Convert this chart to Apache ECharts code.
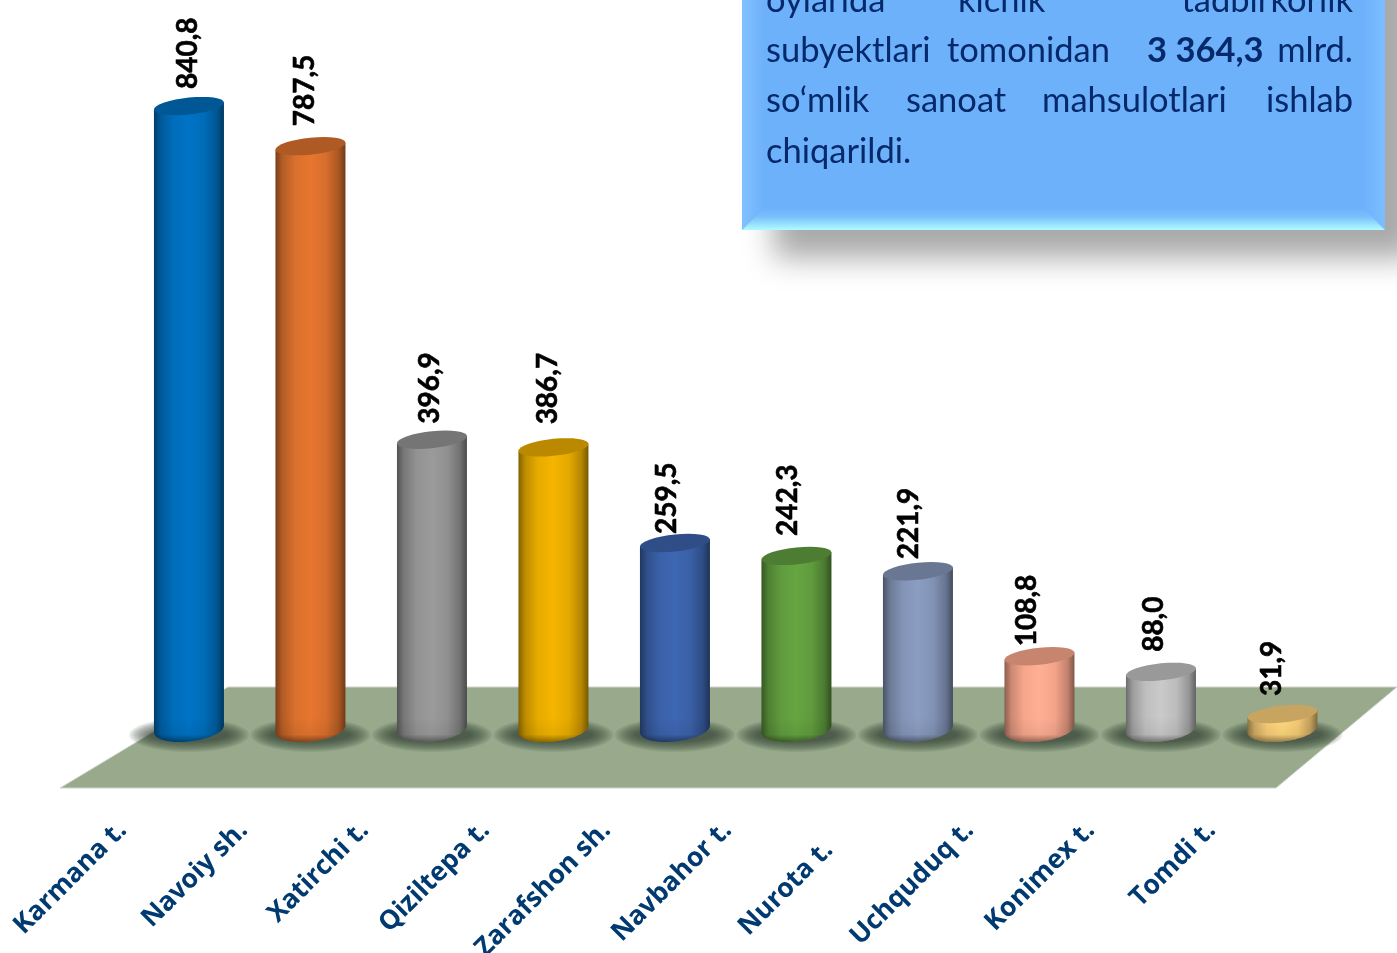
<!DOCTYPE html>
<html>
<head>
<meta charset="utf-8">
<title>Kichik tadbirkorlik sanoat mahsulotlari</title>
<script src="https://cdn.jsdelivr.net/npm/echarts@6/dist/echarts.min.js"></script>
<style>
    html, body { margin: 0; padding: 0; background: #fff; overflow: hidden; }
    #main { width: 1397px; height: 953px; }
</style>
</head>
<body>
<div id="main"></div>
<script>
// data
const categories = ['Karmana t.', 'Navoiy sh.', 'Xatirchi t.', 'Qiziltepa t.', 'Zarafshon sh.', 'Navbahor t.', 'Nurota t.', 'Uchquduq t.', 'Konimex t.', 'Tomdi t.'];
const values = [840.8, 787.5, 396.9, 386.7, 259.5, 242.3, 221.9, 108.8, 88.0, 31.9];

// look of the marks
const barColors = ['#0070c0', '#e0732e', '#969696', '#eeb000', '#3c64ad', '#63a040', '#8698bc', '#ffab90', '#c4c4c4', '#ffd27a'];
const labelNudgeX = [-1, -5, -2, -5, -8, -8, -9, -12, -7, -10];
const labelNudgeY = [-17, -20, -16, -23, -9, -20, -12, -10, -20, -18];

const BAR_RX = 35, BAR_RY = 8.5, TILT = 0.1, BASE_LIFT = 9, SHADOW_STEPS = 12;

function shade(hex, k) {
    const n = parseInt(hex.slice(1), 16);
    const c = [n >> 16, (n >> 8) & 255, n & 255].map(v => Math.min(255, Math.round(v * k)));
    return 'rgb(' + c.join(',') + ')';
}

// points of a sheared ellipse, from angle a to b
function arc(cx, cy, ry, a, b) {
    const pts = [];
    for (let i = 0; i <= 32; i++) {
        const t = a + (b - a) * i / 32;
        const dx = BAR_RX * Math.cos(t);
        pts.push([cx + dx, cy + ry * Math.sin(t) - TILT * dx]);
    }
    return pts;
}

function renderCylinder(params, api) {
    const i = api.value(0);
    const color = barColors[i];
    const top = api.coord([i, api.value(1)]);
    const zero = api.coord([i, 0]);
    const cx = top[0], cy = top[1], base = zero[1] - BASE_LIFT;

    const bottomArc = arc(cx, base, 12.5, 0, Math.PI);
    const body = [[cx - BAR_RX, cy + TILT * BAR_RX]].concat([[cx + BAR_RX, cy - TILT * BAR_RX]], bottomArc);
    const lowY = base - 12;
    const rim = [[cx + BAR_RX, lowY]].concat(bottomArc, [[cx - BAR_RX, lowY]]);

    // soft shadow on the floor, stacked ellipses
    const shadow = [];
    for (let k = 0; k < SHADOW_STEPS; k++) {
        shadow.push({
            type: 'ellipse',
            silent: true,
            shape: { cx: cx, cy: zero[1] - 3, rx: 60 - k * 1.9, ry: 17 - k * 0.95 },
            style: { fill: 'rgba(50,60,45,0.085)' }
        });
    }

    return {
        type: 'group',
        children: shadow.concat([
            {
                type: 'polygon',
                shape: { points: body },
                style: {
                    fill: {
                        type: 'linear', x: 0, y: 0, x2: 1, y2: 0,
                        colorStops: [
                            { offset: 0, color: shade(color, 0.55) },
                            { offset: 0.1, color: shade(color, 0.8) },
                            { offset: 0.28, color: shade(color, 0.97) },
                            { offset: 0.5, color: shade(color, 1.03) },
                            { offset: 0.72, color: shade(color, 0.96) },
                            { offset: 0.9, color: shade(color, 0.76) },
                            { offset: 1, color: shade(color, 0.5) }
                        ]
                    }
                }
            },
            {
                type: 'polygon',
                silent: true,
                shape: { points: rim },
                style: {
                    fill: {
                        type: 'linear', x: 0, y: 0, x2: 0, y2: 1,
                        colorStops: [
                            { offset: 0, color: 'rgba(0,0,0,0)' },
                            { offset: 0.7, color: 'rgba(0,0,0,0.06)' },
                            { offset: 1, color: 'rgba(0,0,0,0.42)' }
                        ]
                    }
                }
            },
            {
                type: 'polygon',
                shape: { points: arc(cx, cy, BAR_RY, 0, Math.PI * 2) },
                style: { fill: shade(color, 0.78) }
            },
            {
                type: 'text',
                x: cx + labelNudgeX[i],
                y: cy + labelNudgeY[i],
                rotation: Math.PI / 2,
                style: {
                    text: api.value(1).toFixed(1).replace('.', ','),
                    fill: '#000',
                    stroke: '#000',
                    lineWidth: 0.6,
                    font: 'bold 28px Lato, "Open Sans", sans-serif',
                    align: 'left',
                    verticalAlign: 'middle'
                }
            }
        ])
    };
}

// floor under the bars
const floorShape = {
    type: 'polygon',
    z: 0,
    shape: { points: [[60, 788], [228, 687], [1397, 687], [1276, 788]] },
    style: { fill: '#98aa8b', stroke: '#cfd6ca', lineWidth: 1 }
};

// note box, cut by the top of the page
const boxFill = '#6eb1fb';
const boxParts = [
    {
        type: 'rect', z: 1,
        shape: { x: 742, y: -60, width: 643, height: 290 },
        style: { fill: boxFill, shadowBlur: 28, shadowOffsetX: 32, shadowOffsetY: 28, shadowColor: 'rgba(0,0,0,0.34)' }
    },
    {
        type: 'polygon', z: 2,
        shape: { points: [[742, -60], [764, -60], [764, 208], [742, 230]] },
        style: { fill: { type: 'linear', x: 0, y: 0, x2: 1, y2: 0, colorStops: [{ offset: 0, color: '#82c1ff' }, { offset: 1, color: boxFill }] } }
    },
    {
        type: 'polygon', z: 2,
        shape: { points: [[1385, -60], [1363, -60], [1363, 208], [1385, 230]] },
        style: { fill: { type: 'linear', x: 0, y: 0, x2: 1, y2: 0, colorStops: [{ offset: 0, color: boxFill }, { offset: 1, color: '#7dbeff' }] } }
    },
    {
        type: 'polygon', z: 2,
        shape: { points: [[742, 230], [764, 208], [1363, 208], [1385, 230]] },
        style: { fill: { type: 'linear', x: 0, y: 0, x2: 0, y2: 1, colorStops: [{ offset: 0, color: boxFill }, { offset: 0.4, color: '#7ac0fc' }, { offset: 1, color: '#aefcff' }] } }
    }
];

// justified note text, word by word: [word, x, y, align, bold]
const noteWords = [
    ['oylarida', 766, 1, 'left'], ['kichik', 958, 1, 'left'], ['tadbirkorlik', 1353, 1, 'right'],
    ['subyektlari', 766, 51, 'left'], ['tomonidan', 1110, 51, 'right'], ['3 364,3', 1147, 51, 'left', true], ['mlrd.', 1353, 51, 'right'],
    ['so‘mlik', 766, 101, 'left'], ['sanoat', 906, 101, 'left'], ['mahsulotlari', 1042, 101, 'left'], ['ishlab', 1353, 101, 'right'],
    ['chiqarildi.', 766, 152, 'left']
];
const noteParts = noteWords.map(w => ({
    type: 'text',
    z: 3,
    x: w[1],
    y: w[2],
    style: {
        text: w[0],
        fill: '#05296a',
        font: (w[4] ? 'bold ' : '') + '34.5px Lato, "Open Sans", sans-serif',
        align: w[3],
        verticalAlign: 'middle'
    }
}));

const myChart = echarts.init(document.getElementById('main'));
myChart.setOption({
    animation: false,
    backgroundColor: '#fff',
    tooltip: { show: false },
    grid: [
        { left: 128.2, width: 1215, top: 61.6, height: 676.4, outerBoundsMode: 'none' },
        // second grid only carries the slanted names, they sit left of the bars
        { left: 62, width: 1210, top: 700, height: 118, outerBoundsMode: 'none' }
    ],
    xAxis: [
        {
            type: 'category', gridIndex: 0, data: categories,
            axisLine: { show: false }, axisTick: { show: false }, axisLabel: { show: false }
        },
        {
            type: 'category', gridIndex: 1, data: categories.map(c => c === 'Nurota t.'
                ? { value: c, textStyle: { padding: [0, 28, 0, 0] } } : c),
            axisLine: { show: false }, axisTick: { show: false },
            axisLabel: {
                show: true, interval: 0, rotate: 45, margin: 8,
                color: '#003a70', fontSize: 26.5, fontWeight: 'bold',
                fontFamily: '"Open Sans", "Noto Sans", sans-serif'
            }
        }
    ],
    yAxis: [
        { type: 'value', gridIndex: 0, min: 0, max: 900, show: false },
        { type: 'value', gridIndex: 1, show: false }
    ],
    graphic: { elements: [floorShape].concat(boxParts, noteParts) },
    series: [{
        type: 'custom',
        name: 'mlrd. so‘m',
        xAxisIndex: 0,
        yAxisIndex: 0,
        clip: false,
        z: 5,
        renderItem: renderCylinder,
        encode: { x: 0, y: 1 },
        data: values.map((v, i) => [i, v])
    }]
});
</script>
</body>
</html>
